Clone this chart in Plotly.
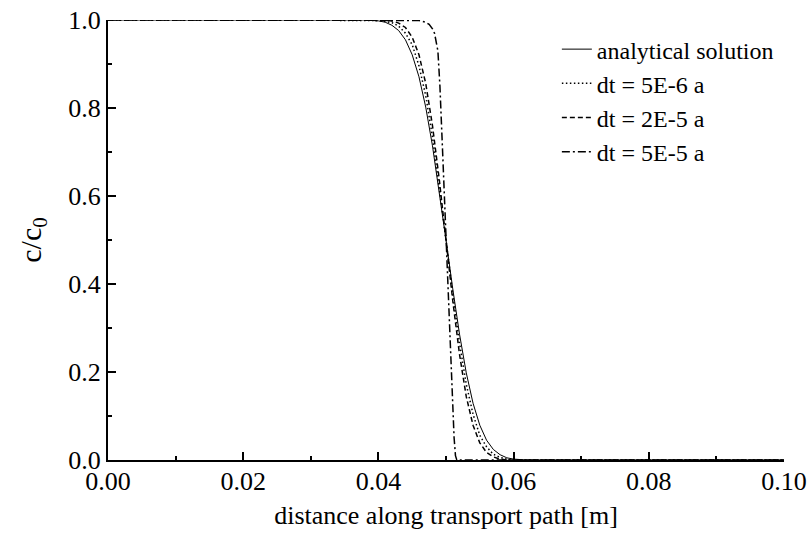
import plotly.graph_objects as go

# distance along transport path [m]
x_analytical = [0.000, 0.038, 0.040, 0.041, 0.042, 0.043, 0.044, 0.045, 0.046, 0.047, 0.048,
                0.049, 0.050, 0.051, 0.052, 0.053, 0.054, 0.055, 0.056, 0.057, 0.058, 0.059,
                0.060, 0.062, 0.100]
c_analytical = [1.000, 1.000, 0.998, 0.995, 0.988, 0.976, 0.955, 0.921, 0.871, 0.802, 0.714,
                0.611, 0.500, 0.389, 0.286, 0.198, 0.129, 0.079, 0.045, 0.024, 0.012, 0.005,
                0.002, 0.000, 0.000]

x_dt5e6 = [0.000, 0.039, 0.040, 0.042, 0.043, 0.044, 0.045, 0.046, 0.047, 0.048, 0.049,
           0.050, 0.051, 0.052, 0.053, 0.054, 0.055, 0.056, 0.057, 0.058, 0.059, 0.060, 0.100]
c_dt5e6 = [1.000, 1.000, 0.999, 0.994, 0.986, 0.970, 0.944, 0.896, 0.828, 0.734, 0.622,
           0.500, 0.378, 0.266, 0.172, 0.104, 0.056, 0.030, 0.013, 0.006, 0.002, 0.000, 0.000]

x_dt2e5 = [0.000, 0.040, 0.042, 0.043, 0.044, 0.045, 0.046, 0.047, 0.048, 0.049, 0.050,
           0.051, 0.052, 0.053, 0.054, 0.055, 0.056, 0.057, 0.058, 0.059, 0.100]
c_dt2e5 = [1.000, 1.000, 0.998, 0.993, 0.983, 0.961, 0.921, 0.856, 0.760, 0.638, 0.500,
           0.362, 0.240, 0.144, 0.079, 0.039, 0.017, 0.007, 0.002, 0.000, 0.000]

x_dt5e5 = [0.000, 0.045, 0.046, 0.047, 0.0475, 0.048, 0.0483, 0.0488, 0.0491, 0.0495, 0.0500,
           0.0503, 0.0507, 0.0510, 0.0512, 0.0514, 0.0516, 0.100]
c_dt5e5 = [1.000, 1.000, 0.999, 0.995, 0.990, 0.980, 0.970, 0.930, 0.850, 0.700, 0.500,
           0.370, 0.220, 0.120, 0.050, 0.010, 0.000, 0.000]

names = ["analytical solution", "dt = 5E-6 a", "dt = 2E-5 a", "dt = 5E-5 a"]
dashes = ["solid", "1.5px,2.5px", "5px,3px", "8px,3px,2px,3px"]
widths = [1.0, 1.5, 1.5, 1.5]
xs = [x_analytical, x_dt5e6, x_dt2e5, x_dt5e5]
cs = [c_analytical, c_dt5e6, c_dt2e5, c_dt5e5]

x_ticks = [0.00, 0.02, 0.04, 0.06, 0.08, 0.10]
x_tick_labels = ["0.00", "0.02", "0.04", "0.06", "0.08", "0.10"]
y_ticks = [0.0, 0.2, 0.4, 0.6, 0.8, 1.0]
y_tick_labels = ["0.0", "0.2", "0.4", "0.6", "0.8", "1.0"]

FONT = "Liberation Serif, Times New Roman, serif"

fig = go.Figure()
for x, c, n, d, w in zip(xs, cs, names, dashes, widths):
    fig.add_trace(go.Scatter(x=x, y=c, mode="lines", name=n,
                             line=dict(color="black", width=w, dash=d)))

fig.update_layout(
    width=809, height=537,
    margin=dict(l=108, r=25, t=20, b=77, autoexpand=False),
    paper_bgcolor="white", plot_bgcolor="white",
    font=dict(family=FONT, color="black", size=26),
    showlegend=True,
    legend=dict(x=0.664, y=0.984, xanchor="left", yanchor="top",
                bgcolor="rgba(0,0,0,0)", font=dict(size=24, family=FONT),
                tracegroupgap=0, itemwidth=30),
)
fig.update_xaxes(
    range=[0, 0.1], tickvals=x_ticks, ticktext=x_tick_labels,
    showline=True, linecolor="black", linewidth=2, mirror=False,
    ticks="inside", ticklen=8, tickwidth=2, tickcolor="black",
    minor=dict(ticks="inside", ticklen=4, tickwidth=2, dtick=0.01, tickcolor="black"),
    showgrid=False, zeroline=False, automargin=False,
    tickfont=dict(size=26, family=FONT), ticklabelstandoff=-3,
    title=dict(text="distance along transport path [m]", font=dict(size=26, family=FONT), standoff=11),
)
fig.update_yaxes(
    range=[0, 1.0], tickvals=y_ticks, ticktext=y_tick_labels,
    showline=True, linecolor="black", linewidth=2, mirror=False,
    ticks="inside", ticklen=8, tickwidth=2, tickcolor="black",
    minor=dict(ticks="inside", ticklen=4, tickwidth=2, dtick=0.1, tickcolor="black"),
    showgrid=False, zeroline=False, automargin=False,
    tickfont=dict(size=26, family=FONT),
    title=dict(text="c/c<sub>0</sub>", font=dict(size=30, family=FONT), standoff=18),
)

fig.write_html("out.html")
